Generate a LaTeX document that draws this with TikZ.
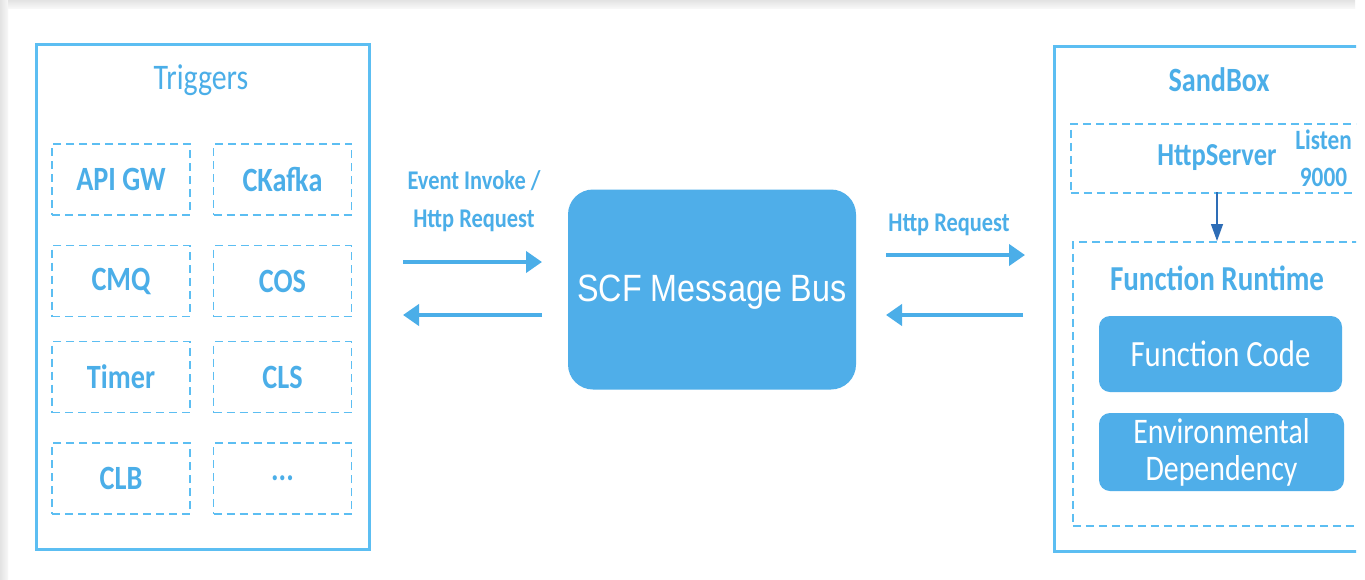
\documentclass[tikz,border=0pt]{standalone}
\usepackage{fontspec}
\setmainfont{Carlito}[FakeStretch=0.83]
\newfontfamily\scffont{Liberation Sans}[FakeStretch=0.85]
\usetikzlibrary{arrows.meta}
\definecolor{edge}{HTML}{5CBEF2}
\definecolor{txt}{HTML}{4BAEE8}
\definecolor{fillb}{HTML}{4FAEE9}
\definecolor{darkarrow}{HTML}{2E6DB6}
\begin{document}
\begin{tikzpicture}[x=1pt,y=-1pt,
  outerbox/.style={draw=edge, line width=3pt, inner sep=0pt},
  dbox/.style={draw=edge, line width=1.5pt, dash pattern=on 8pt off 5pt, inner sep=0pt},
  trig/.style={dbox, minimum width=138pt, minimum height=71pt, text=txt, font=\bfseries\fontsize{34}{36}\selectfont},
  lbl/.style={text=txt, font=\bfseries\fontsize{27}{38}\selectfont, align=center, inner sep=0pt},
  flow/.style={draw=txt, line width=4pt, -{Triangle[length=16pt,width=21pt]}},
  solidbox/.style={fill=fillb, rounded corners=11pt, text=white, inner sep=0pt, align=center}]
\useasboundingbox (0,0) rectangle (1365,579);
\fill[white] (0,0) rectangle (1365,579);
\shade[left color=black!11, right color=black!3] (0,0) rectangle (8,579);
\shade[top color=black!11, bottom color=black!3] (8,0) rectangle (1355,8);

% Triggers
\node[outerbox, minimum width=333pt, minimum height=505pt] (trig) at (202.5,296.5) {};
\node[text=txt, font=\fontsize{36}{38}\selectfont] (trigT) at (201,80) {Triggers};
\node[trig] (apigw) at (121,179.5) {API GW};
\node[trig] (ckafka) at (282.5,179.5) {CKafka};
\node[trig] (cmq) at (121,281) {CMQ};
\node[trig] (cos) at (282.5,281) {COS};
\node[trig] (timer) at (121,377) {Timer};
\node[trig] (cls) at (282.5,377) {CLS};
\node[trig] (clb) at (121,478.5) {CLB};
\node[trig] (more) at (282.5,478.5) {...};

% Message bus
\node[solidbox, rounded corners=25pt, minimum width=288pt, minimum height=200pt] (bus) at (712,289.5) {};
\node[text=white, inner sep=0pt, font=\scffont\fontsize{38}{40}\selectfont] (busT) at (712,292) {SCF Message Bus};

% left arrows
\node[lbl] (evt) at (474,201) {Event Invoke /\\Http Request};
\coordinate (l1s) at (403,262);
\coordinate (l1e) at (542,262);
\coordinate (l2s) at (542,315);
\coordinate (l2e) at (403,315);
\draw[flow] (l1s) -- (l1e);
\draw[flow] (l2s) -- (l2e);

% right arrows
\node[lbl] (hreq) at (949,225) {Http Request};
\coordinate (r1s) at (886,255);
\coordinate (r1e) at (1025,255);
\coordinate (r2s) at (1023,315);
\coordinate (r2e) at (886,315);
\draw[flow] (r1s) -- (r1e);
\draw[flow] (r2s) -- (r2e);

% SandBox
\begin{scope}
\clip (0,0) rectangle (1356,579);
\node[outerbox, anchor=north west, minimum width=340pt, minimum height=505pt] (sb) at (1053,45) {};
\node[dbox, anchor=north west, minimum width=320pt, minimum height=69pt] (hs) at (1070,123) {};
\node[dbox, anchor=north west, minimum width=320pt, minimum height=284pt] (fr) at (1072,241) {};
\node[lbl, font=\bfseries\fontsize{34}{36}\selectfont] (sbT) at (1219,80) {SandBox};
\node[lbl, font=\bfseries\fontsize{32}{36}\selectfont] (hsT) at (1217,158) {HttpServer};
\node[lbl, font=\bfseries\fontsize{28}{37}\selectfont] (listen) at (1323.5,158.5) {Listen\\9000};
\node[lbl, font=\bfseries\fontsize{35}{38}\selectfont] (frT) at (1217,278) {Function Runtime};
\end{scope}
\coordinate (dA) at (1217,192);
\coordinate (dB) at (1217,241);
\draw[darkarrow, line width=1.3pt, -{Triangle[length=17pt,width=12pt]}] (dA) -- (dB);

\node[solidbox, minimum width=243pt, minimum height=76pt, font=\fontsize{37}{40}\selectfont] (fc) at (1220.5,354) {Function Code};
\node[solidbox, minimum width=245pt, minimum height=78pt, font=\fontsize{36}{37}\selectfont] (env) at (1221.5,452) {Environmental\\Dependency};
\end{tikzpicture}
\end{document}
